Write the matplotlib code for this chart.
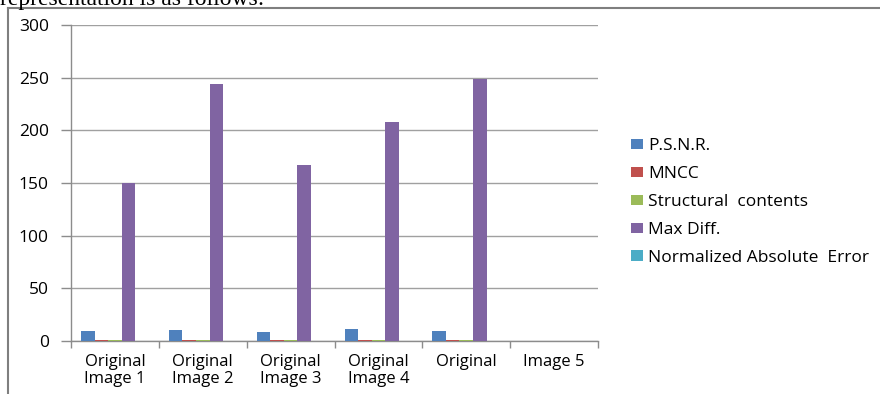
import numpy as np
import matplotlib
matplotlib.use("Agg")
import matplotlib.pyplot as plt
from matplotlib.lines import Line2D

categories = ["Original\nImage 1", "Original\nImage 2", "Original\nImage 3",
              "Original\nImage 4", "Original", "Image 5"]
psnr = [9.5, 10.4, 8.8, 11.7, 9.5, 0]
mncc = [1.2, 1.2, 1.2, 1.2, 1.2, 0]
struct_contents = [0.8, 0.8, 0.8, 0.8, 0.8, 0]
max_diff = [150, 244, 167, 208, 249, 0]
nae = [0.3, 0.3, 0.3, 0.3, 0.3, 0]

series_names = ["P.S.N.R.", "MNCC", "Structural  contents", "Max Diff.",
                "Normalized Absolute  Error"]
colors = ["#4F81BD", "#C0504D", "#9BBB59", "#8064A2", "#4BACC6"]

plt.rcParams['font.family'] = ['Open Sans', 'DejaVu Sans']

W, H = 880, 394
fig = plt.figure(figsize=(W / 100, H / 100), dpi=100)
ax = fig.add_axes([71 / W, 1 - 341 / H, (598 - 71) / W, (341 - 25) / H])

x = np.arange(len(categories))
w = 0.154
all_series = [psnr, mncc, struct_contents, max_diff, nae]
for i, (vals, name, c) in enumerate(zip(all_series, series_names, colors)):
    ax.bar(x + (i - 2) * w, vals, width=w, color=c, label=name, zorder=3)

ax.set_xlim(-0.5, len(categories) - 0.5)
ax.set_ylim(0, 300)
ax.set_yticks(range(0, 301, 50))
ax.grid(axis='y', color='#a0a0a0', linewidth=1, zorder=0)

# boundary ticks as major, labels on minor ticks at centres
ax.set_xticks(np.arange(-0.5, len(categories)), labels=[""] * (len(categories) + 1))
ax.set_xticks(x, labels=categories, minor=True)
ax.tick_params(axis='x', which='major', length=5, color='#8c8c8c', width=1)
ax.tick_params(axis='x', which='minor', length=0, pad=9, labelsize=12, colors='#000000')
ax.tick_params(axis='y', length=7, color='#8c8c8c', width=1, pad=9, labelsize=12.5)
for lab in ax.get_xticklabels(minor=True):
    lab.set_linespacing(1.12)

for s in ['top', 'right']:
    ax.spines[s].set_visible(False)
for s in ['left', 'bottom']:
    ax.spines[s].set_color('#8c8c8c')
    ax.spines[s].set_linewidth(1)

fs = 12.5
ax.legend(loc='center left', bbox_to_anchor=(631 / W, 1 - 202 / H),
          bbox_transform=fig.transFigure, frameon=False, fontsize=fs,
          handlelength=0.69, handleheight=0.52, handletextpad=0.29,
          labelspacing=0.68, borderpad=0, borderaxespad=0)

# outer chart frame (cut off at right and bottom)
fig.add_artist(Line2D([8 / W, 1], [1 - 8 / H, 1 - 8 / H], color='#7f7f7f', linewidth=1.5))
fig.add_artist(Line2D([8 / W, 8 / W], [1 - 8 / H, 0], color='#7f7f7f', linewidth=1.5))

# clipped text from the surrounding document
fig.text(0.0, 1 - 5 / H, "representation is as follows:", family='Liberation Serif',
         fontsize=17, va='baseline', ha='left')

fig.savefig("out.png", dpi=100, facecolor='white')
